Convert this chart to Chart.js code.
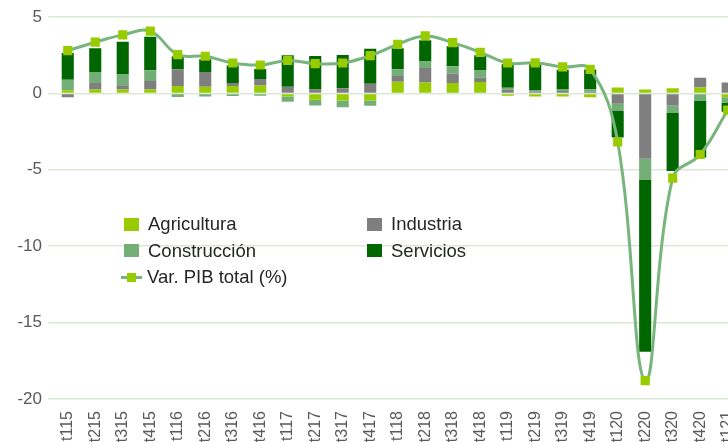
<!DOCTYPE html>
<html lang="es">
<head>
<meta charset="utf-8">
<title>Contribuciones al PIB</title>
<script src="https://cdn.jsdelivr.net/npm/chart.js@4"></script>
<style>
  html, body { margin: 0; padding: 0; overflow: hidden; background: #fff; }
  #wrap { position: relative; width: 751px; height: 442px; }
  #legend {
    position: absolute; left: 121px; top: 214px;
    display: grid; grid-template-columns: 243px auto; row-gap: 6px;
    font-family: "Liberation Sans", Arial, sans-serif; font-size: 18.5px; color: #262626;
  }
  .item { display: flex; align-items: center; height: 20.5px; white-space: nowrap; }
  .box { width: 15px; height: 13px; margin: 0 9px 0 3px; }
  .ln { position: relative; width: 21px; height: 3px; margin-right: 5px; }
  .ln span { position: absolute; left: 6px; top: -3px; width: 9px; height: 9px; }
</style>
</head>
<body>
<div id="wrap">
  <canvas id="chart"></canvas>
  <div id="legend"></div>
</div>
<script>
// ─── Data ──────────────────────────────────────────────────────
const QUARTERS = ['t115', 't215', 't315', 't415', 't116', 't216', 't316', 't416',
  't117', 't217', 't317', 't417', 't118', 't218', 't318', 't418',
  't119', 't219', 't319', 't419', 't120', 't220', 't320', 't420', 't121'];

const AGRICULTURA = [0.2, 0.26, 0.26, 0.26, 0.48, 0.44, 0.48, 0.52, -0.2, -0.42, -0.46, -0.46,
  0.77, 0.72, 0.68, 0.74, -0.15, -0.2, -0.2, -0.25, 0.39, 0.26, 0.33, 0.39, -0.25];
const INDUSTRIA = [-0.25, 0.42, 0.28, 0.55, 1.1, 0.96, 0.2, 0.42, 0.44, 0.26, 0.33, 0.63,
  0.37, 0.94, 0.63, 0.28, 0.24, 0.12, 0.15, 0.12, -0.67, -4.28, -0.8, 0.63, 0.72];
const CONSTRUCCION = [0.7, 0.68, 0.7, 0.7, -0.24, -0.2, -0.17, -0.15, -0.35, -0.37, -0.44, -0.35,
  0.44, 0.42, 0.46, 0.48, 0.13, 0.1, 0.13, 0.15, -0.48, -1.38, -0.48, -0.46, -0.35];
const SERVICIOS = [1.75, 1.6, 2.14, 2.19, 0.83, 0.83, 1.14, 0.66, 2.05, 2.19, 2.19, 2.3,
  1.38, 1.4, 1.31, 1.0, 1.53, 1.68, 1.27, 1.3, -1.74, -11.24, -3.8, -3.74, -0.6];
const PIB_TOTAL = [2.8, 3.35, 3.83, 4.07, 2.54, 2.43, 1.99, 1.86, 2.16, 1.95, 1.99, 2.47,
  3.21, 3.76, 3.32, 2.69, 1.99, 2.0, 1.73, 1.57, -3.17, -18.8, -5.55, -4.0, -1.1];

const Y_MIN = -20;
const Y_MAX = 5;
const Y_STEP = 5;

const COLORS = {
  agricultura: '#99cc00',
  industria: '#7f7f7f',
  construccion: '#73ae76',
  servicios: '#006600',
  line: '#78b57d',
  marker: '#99cc00',
  grid: '#dbe8d7',
  text: '#595959',
};

const FONT = '"Liberation Sans", Arial, sans-serif';

// ─── Chart ─────────────────────────────────────────────────────

function barSet(label, data, color) {
  return {
    type: 'bar',
    label,
    data,
    backgroundColor: color,
    borderWidth: 0,
    stack: 'sectores',
    barPercentage: 0.44,
    categoryPercentage: 1,
    order: 1,
  };
}

const chart = new Chart(document.getElementById('chart'), {
  data: {
    labels: QUARTERS,
    datasets: [
      barSet('Agricultura', AGRICULTURA, COLORS.agricultura),
      barSet('Industria', INDUSTRIA, COLORS.industria),
      barSet('Construcción', CONSTRUCCION, COLORS.construccion),
      barSet('Servicios', SERVICIOS, COLORS.servicios),
      {
        type: 'line',
        label: 'Var. PIB total (%)',
        data: PIB_TOTAL,
        stack: 'pib',
        borderColor: COLORS.line,
        borderWidth: 3,
        tension: 0.4,
        pointStyle: 'rect',
        pointRadius: 6.5,
        pointBackgroundColor: COLORS.marker,
        pointBorderColor: COLORS.marker,
        pointBorderWidth: 0,
        order: 0,
      },
    ],
  },
  options: {
    responsive: true,
    maintainAspectRatio: false,
    animation: false,
    layout: { padding: { top: 17, bottom: 0, right: 0, left: 0 } },
    plugins: {
      legend: { display: false },
      tooltip: { enabled: false },
    },
    scales: {
      x: {
        stacked: true,
        afterFit: s => { s.height = 43; },
        grid: { display: false },
        border: { display: false },
        ticks: {
          color: COLORS.text,
          font: { family: FONT, size: 16 },
          minRotation: 90,
          maxRotation: 90,
          autoSkip: false,
          padding: 4,
        },
      },
      y: {
        stacked: true,
        min: Y_MIN,
        max: Y_MAX,
        afterFit: s => { s.width = 54; },
        ticks: {
          stepSize: Y_STEP,
          color: COLORS.text,
          font: { family: FONT, size: 17 },
          padding: 6,
        },
        grid: { color: COLORS.grid, lineWidth: 1.5, tickLength: 6 },
        border: { display: false },
      },
    },
  },
});

// ─── Legend (inside the plot, two columns) ─────────────────────

function renderLegend(ch) {
  const el = document.getElementById('legend');
  el.innerHTML = ch.data.datasets.map(ds => {
    if (ds.type === 'line') {
      return `<div class="item"><span class="ln" style="background:${ds.borderColor}">` +
        `<span style="background:${ds.pointBackgroundColor}"></span></span>${ds.label}</div>`;
    }
    return `<div class="item"><span class="box" style="background:${ds.backgroundColor}"></span>${ds.label}</div>`;
  }).join('');
}

renderLegend(chart);
</script>
</body>
</html>
